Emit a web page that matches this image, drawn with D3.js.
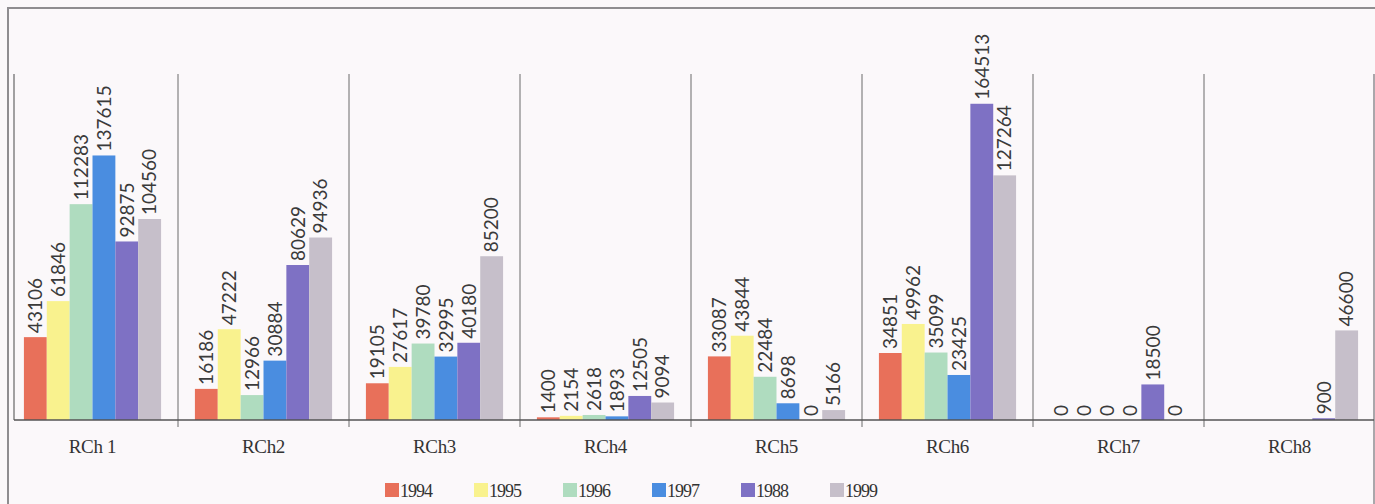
<!DOCTYPE html>
<html>
<head>
<meta charset="utf-8">
<script src="https://cdn.jsdelivr.net/npm/d3@7"></script>
<style>
  html, body { margin: 0; padding: 0; background: #fbf8fa; }
  svg { display: block; }
</style>
</head>
<body>
<svg id="chart" width="1375" height="504"></svg>
<script>
// Regions and yearly series
const categories = ["RCh 1", "RCh2", "RCh3", "RCh4", "RCh5", "RCh6", "RCh7", "RCh8"];
const seriesNames = ["1994", "1995", "1996", "1997", "1988", "1999"];
const v1994 = [43106, 16186, 19105, 1400, 33087, 34851, 0, null];
const v1995 = [61846, 47222, 27617, 2154, 43844, 49962, 0, null];
const v1996 = [112283, 12966, 39780, 2618, 22484, 35099, 0, null];
const v1997 = [137615, 30884, 32995, 1893, 8698, 23425, 0, null];
const v1988 = [92875, 80629, 40180, 12505, 0, 164513, 18500, 900];
const v1999 = [104560, 94936, 85200, 9094, 5166, 127264, 0, 46600];
const seriesColors = ["#e8705a", "#f9f28e", "#afdcbf", "#4a8de0", "#7e71c4", "#c6bfca"];

const seriesValues = [v1994, v1995, v1996, v1997, v1988, v1999];
const rows = categories.map((c, i) => ({
  cat: c,
  values: seriesNames.map((s, j) => ({ key: s, idx: j, value: seriesValues[j][i] }))
}));

const svg = d3.select("#chart");

const x0 = d3.scaleBand().domain(categories).range([7, 1375]).padding(0);
const x1 = d3.scaleBand().domain(seriesNames).range([0, x0.bandwidth()]).paddingInner(0).paddingOuter(0.74);
const y = d3.scaleLinear().domain([0, 180000]).range([420, 74]);
const color = d3.scaleOrdinal().domain(seriesNames).range(seriesColors);

// Outer frame
svg.append("path")
  .attr("d", "M8,504 L8,8 L1375,8")
  .attr("fill", "none").attr("stroke", "#8f8d90").attr("stroke-width", 2);

// Left axis line
svg.append("line")
  .attr("x1", 14).attr("x2", 14).attr("y1", y.range()[1]).attr("y2", y(0))
  .attr("stroke", "#666").attr("stroke-width", 1.2);

// Group separators
categories.slice(1).forEach(c => {
  svg.append("line")
    .attr("x1", x0(c)).attr("x2", x0(c))
    .attr("y1", y.range()[1]).attr("y2", y(0) + 7)
    .attr("stroke", "#6a6a6a").attr("stroke-width", 1);
});
svg.append("line")
  .attr("x1", 1374).attr("x2", 1374).attr("y1", y.range()[1]).attr("y2", 504)
  .attr("stroke", "#8f8d90").attr("stroke-width", 1.5);

// Bars
const groups = svg.append("g").selectAll("g")
  .data(rows).join("g")
  .attr("transform", d => `translate(${x0(d.cat)},0)`);

groups.selectAll("rect")
  .data(d => d.values.filter(v => v.value !== null))
  .join("rect")
  .attr("x", d => x1(d.key))
  .attr("width", x1.bandwidth())
  .attr("y", d => y(d.value))
  .attr("height", d => y(0) - y(d.value))
  .attr("fill", d => color(d.key));

// Value labels, rotated above each bar
groups.selectAll("text.val")
  .data(d => d.values.filter(v => v.value !== null))
  .join("text")
  .attr("class", "val")
  .attr("transform", d => `translate(${x1(d.key) + x1.bandwidth() / 2},${y(d.value) - 4}) rotate(-90)`)
  .attr("dy", "0.36em")
  .attr("text-anchor", "start")
  .attr("font-family", "Lato, 'Open Sans', sans-serif")
  .attr("font-size", 19)
  .attr("fill", "#3a3a3a")
  .text(d => d.value);

// Baseline with category labels
const xAxis = d3.axisBottom(x0).tickSize(0).tickPadding(20);
const axisG = svg.append("g").attr("transform", `translate(0,${y(0)})`).call(xAxis);
axisG.select(".domain").remove();
axisG.selectAll("text")
  .attr("font-family", "'Liberation Serif', 'DejaVu Serif', serif")
  .attr("font-size", 19)
  .attr("letter-spacing", -0.3)
  .attr("fill", "#333");
svg.append("line")
  .attr("x1", 14).attr("x2", 1374).attr("y1", y(0)).attr("y2", y(0))
  .attr("stroke", "#555").attr("stroke-width", 1.5);

// Legend
const legend = svg.append("g").attr("transform", "translate(385,483)");
const item = legend.selectAll("g").data(seriesNames).join("g")
  .attr("transform", (d, i) => `translate(${i * 89},0)`);
item.append("rect").attr("width", 14).attr("height", 14).attr("fill", d => color(d));
item.append("text")
  .attr("x", 15).attr("y", 14)
  .attr("font-family", "'Liberation Serif', 'DejaVu Serif', serif")
  .attr("font-size", 18)
  .attr("letter-spacing", -1)
  .attr("fill", "#333")
  .text(d => d);
</script>
</body>
</html>
